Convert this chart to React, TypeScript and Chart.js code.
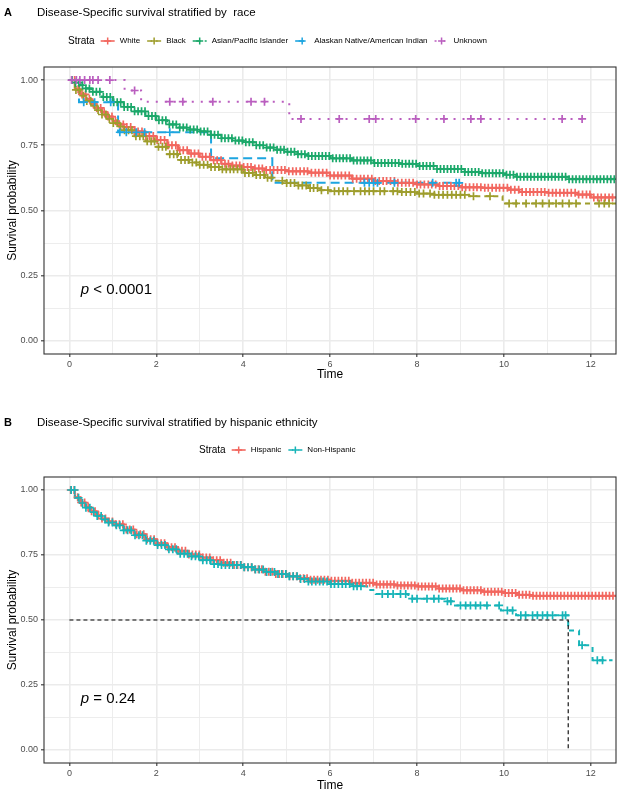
import React, { useEffect, useRef } from "react";
import { Chart, registerables } from "chart.js";

Chart.register(...registerables);

const FONT = "'Liberation Sans', Arial, Helvetica, sans-serif";

// ---------- Panel A: race ----------
const whiteTimes = [0, 0.125, 0.25, 0.375, 0.5, 0.625, 0.75, 0.875, 1.0, 1.125, 1.25, 1.5, 1.75, 2.0, 2.25, 2.5, 2.75, 3.0, 3.25, 3.5, 3.75, 4.0, 4.25, 4.5, 5.0, 5.5, 6.0, 6.5, 7.0, 7.5, 8.0, 8.5, 9.0, 9.5, 10.1, 10.35, 11.0, 11.7, 12.0, 12.58];
const whiteSurv = [1.0, 0.965, 0.945, 0.927, 0.91, 0.893, 0.877, 0.86, 0.843, 0.83, 0.82, 0.803, 0.786, 0.77, 0.75, 0.731, 0.718, 0.706, 0.693, 0.679, 0.672, 0.667, 0.661, 0.655, 0.65, 0.645, 0.634, 0.622, 0.613, 0.606, 0.6, 0.594, 0.589, 0.587, 0.58, 0.571, 0.568, 0.561, 0.55, 0.55];
const whiteCensor = [0.12, 0.2, 0.29, 0.37, 0.46, 0.55, 0.63, 0.72, 0.8, 0.89, 0.98, 1.06, 1.15, 1.24, 1.32, 1.41, 1.5, 1.58, 1.67, 1.76, 1.84, 1.93, 2.02, 2.1, 2.19, 2.28, 2.36, 2.45, 2.54, 2.62, 2.71, 2.8, 2.88, 2.97, 3.06, 3.14, 3.23, 3.32, 3.4, 3.49, 3.58, 3.66, 3.75, 3.84, 3.92, 4.01, 4.1, 4.18, 4.27, 4.36, 4.44, 4.53, 4.62, 4.7, 4.79, 4.88, 4.96, 5.05, 5.14, 5.22, 5.31, 5.4, 5.48, 5.57, 5.66, 5.74, 5.83, 5.92, 6.0, 6.09, 6.18, 6.26, 6.35, 6.44, 6.52, 6.61, 6.7, 6.78, 6.87, 6.96, 7.04, 7.13, 7.22, 7.3, 7.39, 7.48, 7.56, 7.65, 7.74, 7.82, 7.91, 8.0, 8.08, 8.17, 8.26, 8.34, 8.43, 8.52, 8.6, 8.69, 8.78, 8.86, 8.95, 9.04, 9.12, 9.21, 9.3, 9.38, 9.47, 9.56, 9.64, 9.73, 9.82, 9.9, 9.99, 10.08, 10.16, 10.25, 10.34, 10.42, 10.51, 10.6, 10.68, 10.77, 10.86, 10.94, 11.03, 11.12, 11.2, 11.29, 11.38, 11.46, 11.55, 11.64, 11.72, 11.81, 11.9, 11.98, 12.07, 12.16, 12.24, 12.33, 12.42, 12.5];

const blackTimes = [0, 0.125, 0.25, 0.375, 0.5, 0.625, 0.75, 0.875, 1.0, 1.125, 1.25, 1.5, 1.75, 2.0, 2.25, 2.5, 2.75, 3.0, 3.25, 3.5, 4.0, 4.25, 4.5, 4.75, 5.0, 5.25, 5.5, 5.75, 6.0, 7.6, 8.0, 8.4, 9.2, 9.97, 12.58];
const blackSurv = [1.0, 0.962, 0.94, 0.92, 0.902, 0.885, 0.868, 0.851, 0.835, 0.822, 0.808, 0.785, 0.765, 0.744, 0.716, 0.694, 0.684, 0.675, 0.667, 0.658, 0.644, 0.636, 0.626, 0.614, 0.605, 0.596, 0.586, 0.578, 0.574, 0.571, 0.565, 0.56, 0.555, 0.527, 0.527];
const blackCensor = [0.15, 0.23, 0.32, 0.4, 0.49, 0.58, 0.66, 0.75, 0.84, 0.92, 1.01, 1.1, 1.18, 1.27, 1.36, 1.44, 1.53, 1.62, 1.7, 1.79, 1.88, 1.96, 2.05, 2.14, 2.22, 2.31, 2.4, 2.48, 2.57, 2.66, 2.74, 2.83, 2.92, 3.0, 3.09, 3.18, 3.26, 3.35, 3.44, 3.52, 3.61, 3.7, 3.78, 3.87, 3.96, 4.04, 4.13, 4.22, 4.3, 4.39, 4.48, 4.56, 4.65, 4.9, 5.0, 5.09, 5.18, 5.27, 5.36, 5.45, 5.54, 5.62, 5.71, 5.8, 5.95, 6.1, 6.2, 6.3, 6.4, 6.55, 6.7, 6.8, 6.9, 7.0, 7.15, 7.25, 7.45, 7.55, 7.65, 7.75, 7.85, 7.95, 8.05, 8.15, 8.3, 8.4, 8.5, 8.6, 8.7, 8.8, 8.9, 9.0, 9.1, 9.3, 9.68, 10.12, 10.28, 10.51, 10.74, 10.89, 11.04, 11.2, 11.35, 11.5, 11.66, 12.19, 12.31, 12.42];

const asianTimes = [0, 0.125, 0.25, 0.375, 0.5, 0.75, 1.0, 1.25, 1.5, 1.75, 2.0, 2.25, 2.5, 2.75, 3.0, 3.25, 3.5, 3.75, 4.0, 4.25, 4.5, 4.75, 5.0, 5.25, 5.5, 6.0, 6.5, 7.0, 7.6, 8.0, 8.4, 9.1, 9.5, 10.0, 10.3, 11.5, 12.58];
const asianSurv = [1.0, 0.99, 0.98, 0.968, 0.955, 0.935, 0.915, 0.897, 0.88, 0.862, 0.846, 0.83, 0.818, 0.81, 0.803, 0.79, 0.777, 0.768, 0.762, 0.75, 0.741, 0.733, 0.725, 0.716, 0.709, 0.7, 0.692, 0.682, 0.679, 0.671, 0.659, 0.648, 0.643, 0.637, 0.629, 0.62, 0.62];
const asianCensor = [0.06, 0.14, 0.22, 0.3, 0.38, 0.46, 0.54, 0.62, 0.7, 0.78, 0.86, 0.94, 1.02, 1.1, 1.18, 1.26, 1.34, 1.42, 1.5, 1.58, 1.66, 1.74, 1.82, 1.9, 1.98, 2.06, 2.14, 2.22, 2.3, 2.38, 2.46, 2.54, 2.62, 2.7, 2.78, 2.86, 2.94, 3.02, 3.1, 3.18, 3.26, 3.34, 3.42, 3.5, 3.58, 3.66, 3.74, 3.82, 3.9, 3.98, 4.06, 4.14, 4.22, 4.3, 4.38, 4.46, 4.54, 4.62, 4.7, 4.78, 4.86, 4.94, 5.02, 5.1, 5.18, 5.26, 5.34, 5.42, 5.5, 5.58, 5.66, 5.74, 5.82, 5.9, 5.98, 6.06, 6.14, 6.22, 6.3, 6.38, 6.46, 6.54, 6.62, 6.7, 6.78, 6.86, 6.94, 7.02, 7.1, 7.18, 7.26, 7.34, 7.42, 7.5, 7.58, 7.66, 7.74, 7.82, 7.9, 7.98, 8.06, 8.14, 8.22, 8.3, 8.38, 8.46, 8.54, 8.62, 8.7, 8.78, 8.86, 8.94, 9.02, 9.1, 9.18, 9.26, 9.34, 9.42, 9.5, 9.58, 9.66, 9.74, 9.82, 9.9, 9.98, 10.06, 10.14, 10.22, 10.3, 10.38, 10.46, 10.54, 10.62, 10.7, 10.78, 10.86, 10.94, 11.02, 11.1, 11.18, 11.26, 11.34, 11.42, 11.5, 11.58, 11.66, 11.74, 11.82, 11.9, 11.98, 12.06, 12.14, 12.22, 12.3, 12.38, 12.46, 12.54];

const alaskanTimes = [0, 0.22, 1.12, 3.26, 4.67, 9.0];
const alaskanSurv = [1.0, 0.915, 0.8, 0.7, 0.606, 0.606];
const alaskanCensor = [0.33, 0.58, 0.95, 1.16, 1.31, 1.54, 1.73, 2.31, 6.79, 6.9, 7.0, 7.09, 7.48, 8.36, 8.9, 8.97];

const unknownTimes = [0, 1.27, 1.65, 5.06, 11.85];
const unknownSurv = [1.0, 0.96, 0.917, 0.851, 0.851];
const unknownCensor = [0.05, 0.16, 0.24, 0.35, 0.47, 0.54, 0.66, 0.93, 1.5, 2.31, 2.61, 3.3, 4.18, 4.49, 5.33, 6.21, 6.9, 7.05, 7.97, 8.62, 9.24, 9.47, 11.34, 11.8];

// ---------- Panel B: hispanic ethnicity ----------
const hispTimes = [0, 0.125, 0.25, 0.375, 0.5, 0.625, 0.75, 0.875, 1.0, 1.25, 1.5, 1.75, 2.0, 2.25, 2.5, 2.75, 3.0, 3.25, 3.5, 3.75, 4.0, 4.25, 4.5, 4.75, 5.0, 5.25, 5.5, 6.0, 6.5, 7.0, 7.5, 8.0, 8.5, 9.0, 9.5, 10.0, 10.3, 10.6, 12.58];
const hispSurv = [1.0, 0.972, 0.952, 0.935, 0.918, 0.903, 0.89, 0.879, 0.868, 0.848, 0.83, 0.811, 0.795, 0.78, 0.766, 0.752, 0.74, 0.73, 0.72, 0.712, 0.703, 0.695, 0.686, 0.677, 0.668, 0.661, 0.655, 0.651, 0.643, 0.637, 0.633, 0.629, 0.621, 0.614, 0.609, 0.604, 0.597, 0.593, 0.593];
const hispCensor = [0.03, 0.11, 0.19, 0.27, 0.35, 0.43, 0.51, 0.59, 0.67, 0.75, 0.83, 0.91, 0.99, 1.07, 1.15, 1.23, 1.31, 1.39, 1.47, 1.55, 1.63, 1.71, 1.79, 1.87, 1.95, 2.03, 2.11, 2.19, 2.27, 2.35, 2.43, 2.51, 2.59, 2.67, 2.75, 2.83, 2.91, 2.99, 3.07, 3.15, 3.23, 3.31, 3.39, 3.47, 3.55, 3.63, 3.71, 3.79, 3.87, 3.95, 4.03, 4.11, 4.19, 4.27, 4.35, 4.43, 4.51, 4.59, 4.67, 4.75, 4.83, 4.91, 4.99, 5.07, 5.15, 5.23, 5.31, 5.39, 5.47, 5.55, 5.63, 5.71, 5.79, 5.87, 5.95, 6.03, 6.11, 6.19, 6.27, 6.35, 6.43, 6.51, 6.59, 6.67, 6.75, 6.83, 6.91, 6.99, 7.07, 7.15, 7.23, 7.31, 7.39, 7.47, 7.55, 7.63, 7.71, 7.79, 7.87, 7.95, 8.03, 8.11, 8.19, 8.27, 8.35, 8.43, 8.51, 8.59, 8.67, 8.75, 8.83, 8.91, 8.99, 9.07, 9.15, 9.23, 9.31, 9.39, 9.47, 9.55, 9.63, 9.71, 9.79, 9.87, 9.95, 10.03, 10.11, 10.19, 10.27, 10.35, 10.43, 10.51, 10.59, 10.67, 10.75, 10.83, 10.91, 10.99, 11.07, 11.15, 11.23, 11.31, 11.39, 11.47, 11.55, 11.63, 11.71, 11.79, 11.87, 11.95, 12.03, 12.11, 12.19, 12.27, 12.35, 12.43, 12.51];

const nonHispTimes = [0, 0.125, 0.25, 0.375, 0.5, 0.625, 0.75, 0.875, 1.0, 1.25, 1.5, 1.75, 2.0, 2.25, 2.5, 2.75, 3.0, 3.25, 3.5, 4.0, 4.25, 4.5, 4.75, 5.0, 5.25, 5.5, 6.0, 6.5, 6.85, 7.05, 7.8, 8.65, 8.85, 9.93, 10.28, 11.48, 11.73, 12.04, 12.5];
const nonHispSurv = [1.0, 0.97, 0.95, 0.932, 0.915, 0.9, 0.887, 0.875, 0.864, 0.845, 0.826, 0.805, 0.788, 0.772, 0.755, 0.745, 0.73, 0.715, 0.712, 0.703, 0.694, 0.685, 0.677, 0.668, 0.658, 0.648, 0.638, 0.63, 0.615, 0.6, 0.582, 0.572, 0.556, 0.537, 0.518, 0.46, 0.403, 0.345, 0.345];
const nonHispCensor = [0.04, 0.12, 0.21, 0.3, 0.38, 0.47, 0.56, 0.64, 0.73, 0.82, 0.9, 0.99, 1.08, 1.16, 1.25, 1.34, 1.42, 1.51, 1.6, 1.68, 1.77, 1.86, 1.94, 2.03, 2.12, 2.2, 2.29, 2.38, 2.46, 2.55, 2.64, 2.72, 2.81, 2.9, 2.98, 3.07, 3.16, 3.24, 3.33, 3.42, 3.5, 3.59, 3.68, 3.76, 3.85, 3.94, 4.02, 4.11, 4.2, 4.28, 4.37, 4.46, 4.54, 4.63, 4.72, 4.8, 4.89, 4.98, 5.06, 5.15, 5.24, 5.32, 5.41, 5.5, 5.58, 5.67, 5.76, 5.84, 5.93, 6.02, 6.1, 6.19, 6.28, 6.36, 6.45, 6.54, 6.62, 6.71, 7.2, 7.33, 7.45, 7.62, 7.74, 7.89, 8.0, 8.23, 8.39, 8.5, 8.7, 8.78, 9.0, 9.12, 9.23, 9.35, 9.46, 9.61, 9.89, 10.08, 10.2, 10.39, 10.5, 10.66, 10.77, 10.89, 11.0, 11.12, 11.35, 11.42, 11.8, 12.15, 12.27];

// ---------- Axes ----------
const xMajorTicks = [0, 2, 4, 6, 8, 10, 12];
const xMinorTicks = [1, 3, 5, 7, 9, 11];
const yMajorTicks = [0, 0.25, 0.5, 0.75, 1.0];
const yMinorTicks = [0.125, 0.375, 0.625, 0.875];
const xRange = [-0.585, 12.58];
const yRange = [-0.05, 1.05];
const pvalCoord = [0.26, 0.195];

type Series = {
  name: string;
  color: string;
  dash: number[];
  times: number[];
  surv: number[];
  censor: number[];
};

const raceSeries: Series[] = [
  { name: "White", color: "#F2675F", dash: [], times: whiteTimes, surv: whiteSurv, censor: whiteCensor },
  { name: "Black", color: "#9E9D2C", dash: [5, 4], times: blackTimes, surv: blackSurv, censor: blackCensor },
  { name: "Asian/Pacific Islander", color: "#1BA86A", dash: [8, 4], times: asianTimes, surv: asianSurv, censor: asianCensor },
  { name: "Alaskan Native/American Indian", color: "#1DA5E0", dash: [9, 5], times: alaskanTimes, surv: alaskanSurv, censor: alaskanCensor },
  { name: "Unknown", color: "#BA5EBF", dash: [2, 7], times: unknownTimes, surv: unknownSurv, censor: unknownCensor },
];

const ethnicitySeries: Series[] = [
  { name: "Hispanic", color: "#F2675F", dash: [], times: hispTimes, surv: hispSurv, censor: hispCensor },
  { name: "Non-Hispanic", color: "#16B4B8", dash: [5, 5], times: nonHispTimes, surv: nonHispSurv, censor: nonHispCensor },
];

function stepAt(times: number[], surv: number[], t: number) {
  let v = surv[0];
  for (let i = 0; i < times.length; i++) {
    if (times[i] <= t) v = surv[i];
    else break;
  }
  return v;
}

function medianTime(s: Series) {
  for (let i = 0; i < s.surv.length; i++) if (s.surv[i] <= 0.5) return s.times[i];
  return null;
}

type PanelCfg = {
  letter: string;
  title: string;
  titleBaseline: number;
  legendX: number;
  legendY: number;
  plotTop: number;
  xAxisHeight: number;
  xTitlePadBottom: number;
  series: Series[];
  pText: string;
  median: boolean;
};

const panelA: PanelCfg = {
  letter: "A",
  title: "Disease-Specific survival stratified by  race",
  titleBaseline: 16,
  legendX: 68,
  legendY: 41,
  plotTop: 67,
  xAxisHeight: 46,
  xTitlePadBottom: 18,
  series: raceSeries,
  pText: " < 0.0001",
  median: false,
};

const panelB: PanelCfg = {
  letter: "B",
  title: "Disease-Specific survival stratified by hispanic ethnicity",
  titleBaseline: 25.5,
  legendX: 199,
  legendY: 50,
  plotTop: 77,
  xAxisHeight: 37,
  xTitlePadBottom: 7,
  series: ethnicitySeries,
  pText: " = 0.24",
  median: true,
};

function buildDatasets(cfg: PanelCfg) {
  const lines = cfg.series.map((s, i) => ({
    label: s.name,
    data: s.times.map((t, j) => ({ x: t, y: s.surv[j] })),
    borderColor: s.color,
    backgroundColor: s.color,
    borderWidth: 2,
    borderDash: s.dash,
    stepped: true,
    pointRadius: 0,
    fill: false,
    order: 100 - i,
  }));
  const marks = cfg.series.map((s, i) => ({
    label: s.name + " censored",
    data: s.censor.map((t) => ({ x: t, y: stepAt(s.times, s.surv, t) })),
    showLine: false,
    pointStyle: "cross",
    pointRadius: 4,
    pointBorderWidth: 1.7,
    pointBorderColor: s.color,
    pointBackgroundColor: s.color,
    borderColor: s.color,
    order: 50 - i,
  }));
  const extra: any[] = [];
  if (cfg.median) {
    const m = medianTime(cfg.series[1]);
    if (m !== null) {
      extra.push({
        label: "median",
        data: [
          { x: 0, y: 0.5 },
          { x: m, y: 0.5 },
          { x: m, y: 0 },
        ],
        borderColor: "#000000",
        borderWidth: 1.1,
        borderDash: [4, 3],
        pointRadius: 0,
        fill: false,
        order: 0,
      });
    }
  }
  return [...lines, ...marks, ...extra];
}

function decoPlugin(cfg: PanelCfg) {
  return {
    id: "deco" + cfg.letter,
    afterDraw(chart: any) {
      const { ctx, chartArea: a, scales } = chart;
      ctx.save();
      ctx.setLineDash([]);
      ctx.strokeStyle = "#333333";
      ctx.lineWidth = 1.1;
      ctx.strokeRect(a.left, a.top, a.right - a.left, a.bottom - a.top);

      ctx.fillStyle = "#000000";
      ctx.textAlign = "left";
      ctx.textBaseline = "alphabetic";
      ctx.font = `bold 11px ${FONT}`;
      ctx.fillText(cfg.letter, 4, cfg.titleBaseline);
      ctx.font = `11.5px ${FONT}`;
      ctx.fillText(cfg.title, 37, cfg.titleBaseline);

      const y = cfg.legendY;
      ctx.textBaseline = "middle";
      let x = cfg.legendX;
      ctx.font = `10px ${FONT}`;
      ctx.fillText("Strata", x, y);
      x += ctx.measureText("Strata").width + 6;
      for (const s of cfg.series) {
        ctx.strokeStyle = s.color;
        ctx.lineWidth = 1.6;
        ctx.setLineDash(s.dash);
        ctx.beginPath();
        ctx.moveTo(x, y);
        ctx.lineTo(x + 14, y);
        ctx.stroke();
        ctx.setLineDash([]);
        ctx.lineWidth = 1.5;
        ctx.beginPath();
        ctx.moveTo(x + 3.5, y);
        ctx.lineTo(x + 10.5, y);
        ctx.moveTo(x + 7, y - 3.5);
        ctx.lineTo(x + 7, y + 3.5);
        ctx.stroke();
        x += 19;
        ctx.font = `8px ${FONT}`;
        ctx.fillStyle = "#000000";
        ctx.fillText(s.name, x, y);
        x += ctx.measureText(s.name).width + 7;
      }

      const px = scales.x.getPixelForValue(pvalCoord[0]);
      const py = scales.y.getPixelForValue(pvalCoord[1]);
      ctx.font = `italic 15px ${FONT}`;
      ctx.fillText("p", px, py);
      const w = ctx.measureText("p").width;
      ctx.font = `15px ${FONT}`;
      ctx.fillText(cfg.pText, px + w, py);
      ctx.restore();
    },
  };
}

function KMPanel({ cfg, top, height }: { cfg: PanelCfg; top: number; height: number }) {
  const ref = useRef<HTMLCanvasElement | null>(null);
  useEffect(() => {
    if (!ref.current) return;
    const isMajorX = (v: number) => xMajorTicks.includes(v);
    const isMajorY = (v: number) => yMajorTicks.includes(v);
    const chart = new Chart(ref.current, {
      type: "line",
      data: { datasets: buildDatasets(cfg) as any },
      options: {
        animation: false,
        responsive: false,
        devicePixelRatio: 1,
        events: [],
        layout: { padding: { left: 0, top: cfg.plotTop, right: 7, bottom: 0 } },
        elements: { line: { tension: 0 } },
        plugins: {
          legend: { display: false },
          tooltip: { enabled: false },
          title: { display: false },
        },
        scales: {
          x: {
            type: "linear",
            min: xRange[0],
            max: xRange[1],
            afterBuildTicks: (sc: any) => {
              sc.ticks = [...xMajorTicks, ...xMinorTicks].sort((p, q) => p - q).map((v) => ({ value: v }));
            },
            afterFit: (sc: any) => {
              sc.height = cfg.xAxisHeight;
            },
            ticks: {
              autoSkip: false,
              maxRotation: 0,
              padding: 2,
              color: "#4D4D4D",
              font: { family: FONT, size: 9 },
              callback: (v: any) => (isMajorX(Number(v)) ? String(v) : ""),
            },
            grid: {
              color: "#EBEBEB",
              lineWidth: (c: any) => (c.tick && isMajorX(c.tick.value) ? 1.6 : 0.9),
              tickColor: (c: any) => (c.tick && isMajorX(c.tick.value) ? "#333333" : "rgba(0,0,0,0)"),
              tickWidth: 1.1,
              tickLength: 3,
            },
            border: { display: false },
            title: {
              display: true,
              text: "Time",
              color: "#000000",
              font: { family: FONT, size: 12 },
              padding: { top: 0, bottom: cfg.xTitlePadBottom },
            },
          },
          y: {
            type: "linear",
            min: yRange[0],
            max: yRange[1],
            afterBuildTicks: (sc: any) => {
              sc.ticks = [...yMajorTicks, ...yMinorTicks].sort((p, q) => p - q).map((v) => ({ value: v }));
            },
            afterFit: (sc: any) => {
              sc.width = 44;
            },
            ticks: {
              autoSkip: false,
              padding: 3,
              color: "#4D4D4D",
              font: { family: FONT, size: 9 },
              callback: (v: any) => (isMajorY(Number(v)) ? Number(v).toFixed(2) : ""),
            },
            grid: {
              color: "#EBEBEB",
              lineWidth: (c: any) => (c.tick && isMajorY(c.tick.value) ? 1.6 : 0.9),
              tickColor: (c: any) => (c.tick && isMajorY(c.tick.value) ? "#333333" : "rgba(0,0,0,0)"),
              tickWidth: 1.1,
              tickLength: 3,
            },
            border: { display: false },
            title: {
              display: true,
              text: "Survival probability",
              color: "#000000",
              font: { family: FONT, size: 12 },
              padding: { top: 5, bottom: 0 },
            },
          },
        },
      } as any,
      plugins: [decoPlugin(cfg)],
    });
    return () => chart.destroy();
  }, []);
  return (
    <canvas
      ref={ref}
      width={623}
      height={height}
      style={{ position: "absolute", left: 0, top, width: 623, height, display: "block" }}
    />
  );
}

export default function App() {
  return (
    <div
      style={{
        position: "absolute",
        left: 0,
        top: 0,
        width: 623,
        height: 800,
        background: "#ffffff",
        overflow: "hidden",
      }}
    >
      <KMPanel cfg={panelA} top={0} height={400} />
      <KMPanel cfg={panelB} top={400} height={400} />
    </div>
  );
}
